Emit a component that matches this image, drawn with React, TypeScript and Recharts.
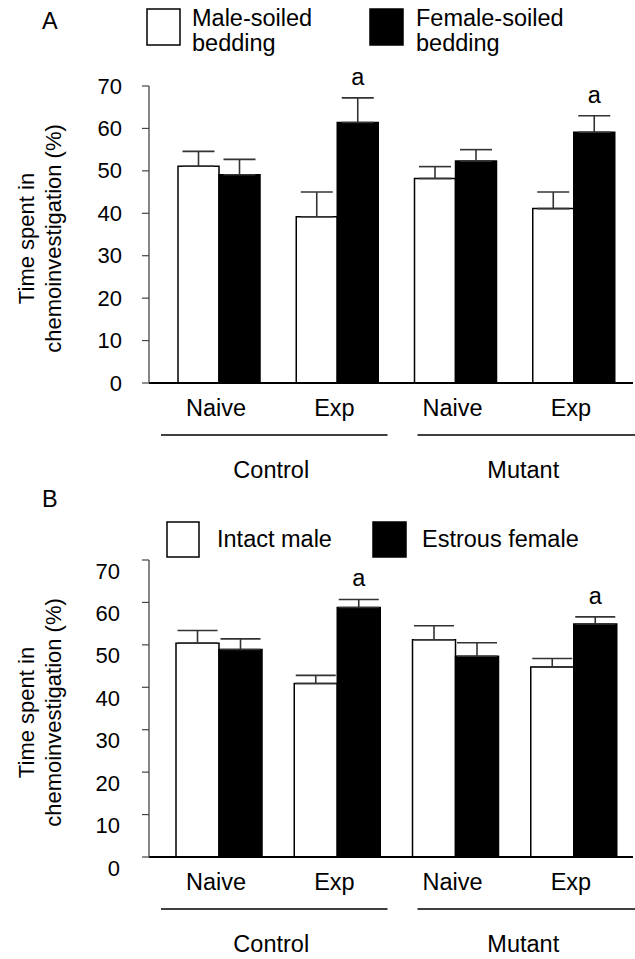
import React from 'react';
import { BarChart, Bar, XAxis, YAxis, ErrorBar, LabelList } from 'recharts';

const conditions = ['Naive', 'Exp', 'Naive', 'Exp'];
const groups = ['Control', 'Mutant'];
const yTicks = [0, 10, 20, 30, 40, 50, 60, 70];

// Panel A
const aLegend = [['Male-soiled', 'bedding'], ['Female-soiled', 'bedding']];
const aMale = [51.1, 39.2, 48.2, 41.1];
const aMaleSem = [3.5, 5.8, 2.8, 3.9];
const aFemale = [49.1, 61.4, 52.3, 59.1];
const aFemaleSem = [3.6, 5.8, 2.7, 3.9];
const aSig = ['', 'a', '', 'a'];

// Panel B
const bLegend = [['Intact male'], ['Estrous female']];
const bMale = [50.4, 40.9, 51.2, 44.8];
const bMaleSem = [3.0, 1.9, 3.3, 2.0];
const bFemale = [48.9, 58.8, 47.3, 54.9];
const bFemaleSem = [2.5, 1.9, 3.2, 1.7];
const bSig = ['', 'a', '', 'a'];

const FONT = '"Liberation Sans", Arial, Helvetica, sans-serif';
const FS = 23.5;
const FS_TICK = 22;

function buildRows(male: number[], maleSem: number[], female: number[], femaleSem: number[], sig: string[]) {
  return conditions.map((c, i) => ({
    id: 'c' + i,
    cond: c,
    male: male[i],
    maleSem: maleSem[i],
    maleErr: [0, maleSem[i]],
    female: female[i],
    femaleSem: femaleSem[i],
    femaleErr: [0, femaleSem[i]],
    sig: sig[i],
  }));
}

const XTick = (props: any) => {
  const { x, y, payload } = props;
  const i = payload?.index ?? props.index ?? 0;
  const off = payload?.offset ?? 59;
  const cx = Number(x);
  const cy = Number(y);
  let groupEl = null;
  if (i % 2 === 0) {
    const g = i / 2;
    const x1 = g === 0 ? cx - off + 1 : cx - off + 21;
    const x2 = g === 0 ? cx + 3 * off - 9 : cx + 3 * off + 2;
    groupEl = (
      <g>
        <line x1={x1} x2={x2} y1={cy + 52} y2={cy + 52} stroke="#000" strokeWidth={1.6} />
        <text x={(x1 + x2) / 2 - 3} y={cy + 87} textAnchor="middle" dominantBaseline="central"
          fontSize={FS} fontFamily={FONT} fill="#000">{groups[g]}</text>
      </g>
    );
  }
  return (
    <g>
      <text x={cx - 3} y={cy + 25} textAnchor="middle" dominantBaseline="central"
        fontSize={FS} fontFamily={FONT} fill="#000">{conditions[i]}</text>
      {groupEl}
    </g>
  );
};

const makeYTick = (dy: number) => (props: any) => {
  const { x, y, payload } = props;
  return (
    <text x={Number(x)} y={Number(y) + dy} textAnchor="end" dominantBaseline="central"
      fontSize={FS_TICK} fontFamily={FONT} fill="#000">{payload.value}</text>
  );
};

const YTitle = (props: any) => {
  const vb = props.viewBox || {};
  const cy = Number(vb.y) + Number(vb.height) / 2 + 4;
  return (
    <g>
      <text x={26} y={cy} transform={`rotate(-90, 26, ${cy})`} textAnchor="middle" dominantBaseline="central"
        fontSize={FS_TICK} fontFamily={FONT} fill="#000">Time spent in</text>
      <text x={53} y={cy} transform={`rotate(-90, 53, ${cy})`} textAnchor="middle" dominantBaseline="central"
        fontSize={FS_TICK} fontFamily={FONT} fill="#000">chemoinvestigation (%)</text>
    </g>
  );
};

type PanelProps = {
  top: number;
  letter: string;
  letterY: number;
  legend: string[][];
  legendBoxes: { x: number; y: number; w: number; h: number }[];
  legendText: { x: number; y: number }[];
  rows: any[];
  barSize: number;
  capW: number;
  tickDy: number;
  tickMargin: number;
};

const Panel = (p: PanelProps) => {
  const rows = p.rows;
  const sigContent = (lp: any) => {
    const idx = lp.index;
    const row = rows[idx];
    if (!row || !row.sig) return null;
    const x = Number(lp.x);
    const y = Number(lp.y);
    const w = Number(lp.width);
    const h = Number(lp.height);
    const pxPerUnit = h / row.female;
    const errTop = y - row.femaleSem * pxPerUnit;
    return (
      <text x={x + w / 2} y={errTop - 21} textAnchor="middle" dominantBaseline="central"
        fontSize={FS} fontFamily={FONT} fill="#000">{row.sig}</text>
    );
  };
  return (
    <div style={{ position: 'absolute', left: 0, top: p.top, width: 635, height: 485 }}>
      <svg width={635} height={100} style={{ position: 'absolute', left: 0, top: 0 }}>
        <text x={42} y={p.letterY} fontSize={FS} fontFamily={FONT} fill="#000">{p.letter}</text>
        {p.legendBoxes.map((b, k) => (
          <rect key={'b' + k} x={b.x} y={b.y} width={b.w} height={b.h}
            fill={k === 0 ? '#fff' : '#000'} stroke="#000" strokeWidth={1.5} />
        ))}
        {p.legend.map((lines, k) =>
          lines.map((ln, j) => (
            <text key={'t' + k + j} x={p.legendText[k].x} y={p.legendText[k].y + j * 25}
              fontSize={FS} fontFamily={FONT} fill="#000">{ln}</text>
          ))
        )}
      </svg>
      <div style={{ position: 'absolute', left: 0, top: 0 }}>
        <BarChart width={635} height={485} data={rows} margin={{ top: 86, right: 2, bottom: 0, left: 0 }}
          barGap={0} barSize={p.barSize}>
          <XAxis dataKey="id" height={102} padding={{ left: 11, right: 0 }} tickLine={false} tickSize={0}
            tickMargin={0} axisLine={{ stroke: '#000', strokeWidth: 1.8 }} tick={<XTick />} interval={0} />
          <YAxis domain={[0, 70]} ticks={yTicks} width={149} tickSize={7} tickMargin={p.tickMargin}
            axisLine={{ stroke: '#444', strokeWidth: 1.3 }} tickLine={{ stroke: '#444', strokeWidth: 1.2 }}
            tick={makeYTick(p.tickDy)} interval={0} label={{ content: <YTitle /> } as any} />
          <Bar dataKey="male" fill="#fff" stroke="#000" strokeWidth={1.5} isAnimationActive={false}>
            <ErrorBar dataKey="maleErr" width={p.capW} stroke="#333" strokeWidth={1.6} />
          </Bar>
          <Bar dataKey="female" fill="#000" stroke="#000" strokeWidth={1.5} isAnimationActive={false}>
            <ErrorBar dataKey="femaleErr" width={p.capW} stroke="#333" strokeWidth={1.6} />
            <LabelList dataKey="sig" content={sigContent} />
          </Bar>
        </BarChart>
      </div>
    </div>
  );
};

export default function App() {
  const rowsA = buildRows(aMale, aMaleSem, aFemale, aFemaleSem, aSig);
  const rowsB = buildRows(bMale, bMaleSem, bFemale, bFemaleSem, bSig);
  return (
    <div style={{ position: 'absolute', left: 0, top: 0, width: 635, height: 959, background: '#fff', fontFamily: FONT, overflow: 'hidden' }}>
      <Panel top={0} letter="A" letterY={29} legend={aLegend}
        legendBoxes={[{ x: 147, y: 9, w: 33, h: 36 }, { x: 370, y: 9, w: 33, h: 36 }]}
        legendText={[{ x: 192, y: 26 }, { x: 416, y: 26 }]}
        rows={rowsA} barSize={41} capW={16} tickDy={0} tickMargin={20} />
      <Panel top={474} letter="B" letterY={33} legend={bLegend}
        legendBoxes={[{ x: 167, y: 48, w: 32, h: 35 }, { x: 373, y: 48, w: 33, h: 35 }]}
        legendText={[{ x: 217, y: 73 }, { x: 422, y: 73 }]}
        rows={rowsB} barSize={43} capW={20} tickDy={11} tickMargin={22} />
    </div>
  );
}
